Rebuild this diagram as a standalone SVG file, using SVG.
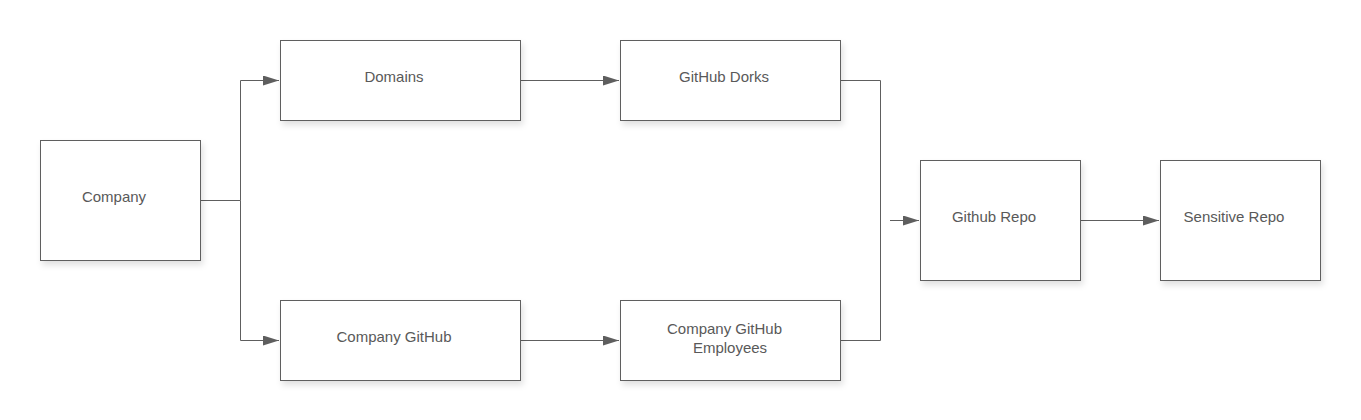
<svg xmlns="http://www.w3.org/2000/svg" width="1361" height="420" viewBox="0 0 1361 420">
<style>
.box{fill:#fff;stroke:#5e5e5e;stroke-width:1;filter:url(#sh)}
.lbl{font-family:"Liberation Sans",Arial,sans-serif;font-size:15px;fill:#595959;text-anchor:middle}
.c{fill:none;stroke:#5e5e5e;stroke-width:1}
.a{marker-end:url(#ah)}
</style>
<defs>
<filter id="sh" x="-10%" y="-10%" width="125%" height="130%">
<feDropShadow dx="2" dy="4" stdDeviation="3" flood-color="#000" flood-opacity="0.12"/>
</filter>
<marker id="ah" viewBox="0 0 16 10" refX="16" refY="5" markerWidth="16" markerHeight="10" markerUnits="userSpaceOnUse" orient="auto">
<path d="M0,0 L16,5 L0,10 Z" fill="#5e5e5e"/>
</marker>
</defs>
<rect width="1361" height="420" fill="#fff"/>
<g id="connectors">
<path class="c a" d="M200.5,200.5 H240.5 V80.5 H279"/>
<path class="c a" d="M240.5,200.5 V340.5 H279"/>
<path class="c a" d="M520.5,80.5 H619"/>
<path class="c a" d="M520.5,340.5 H619"/>
<path class="c" d="M840.5,80.5 H880.5 V340.5 H840.5"/>
<path class="c a" d="M890,220.5 H919"/>
<path class="c a" d="M1080.5,220.5 H1159"/>
</g>
<g id="company"><rect class="box" x="40.5" y="140.5" width="160" height="120"/><text class="lbl" x="114" y="202">Company</text></g>
<g id="domains"><rect class="box" x="280.5" y="40.5" width="240" height="80"/><text class="lbl" x="394" y="82">Domains</text></g>
<g id="github-dorks"><rect class="box" x="620.5" y="40.5" width="220" height="80"/><text class="lbl" x="724" y="82">GitHub Dorks</text></g>
<g id="company-github"><rect class="box" x="280.5" y="300.5" width="240" height="80"/><text class="lbl" x="394" y="342">Company GitHub</text></g>
<g id="company-github-employees"><rect class="box" x="620.5" y="300.5" width="220" height="80"/><text class="lbl" x="724.5" y="334">Company GitHub</text><text class="lbl" x="730" y="353">Employees</text></g>
<g id="github-repo"><rect class="box" x="920.5" y="160.5" width="160" height="120"/><text class="lbl" x="994" y="222">Github Repo</text></g>
<g id="sensitive-repo"><rect class="box" x="1160.5" y="160.5" width="160" height="120"/><text class="lbl" x="1234" y="222">Sensitive Repo</text></g>
</svg>
